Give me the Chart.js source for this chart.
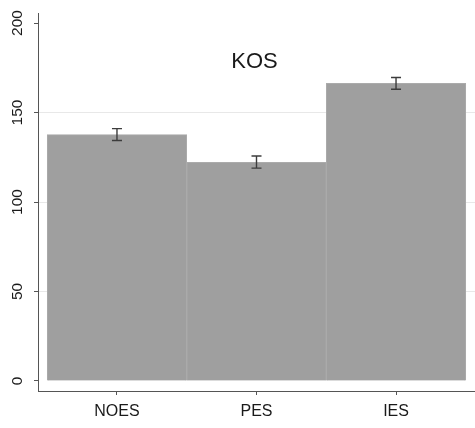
<!DOCTYPE html>
<html>
<head>
<meta charset="utf-8">
<script src="https://cdn.jsdelivr.net/npm/chart.js@4"></script>
<style>
  html, body { margin: 0; padding: 0; background: #fff; }
  #wrap { width: 475px; height: 428px; }
</style>
</head>
<body>
<div id="wrap"><canvas id="kosChart"></canvas></div>
<script>
const categories = ['NOES', 'PES', 'IES']
const means = [137.6, 122.2, 166.3]
const errLow = [134.4, 118.9, 163.0]
const errHigh = [141.0, 125.7, 169.6]
const yTicks = [0, 50, 100, 150, 200]
const panelTitle = 'KOS'

// error bars, drawn through the chart scales
const errorBars = {
  id: 'errorBars',
  afterDatasetsDraw(chart) {
    const { ctx, scales: { x, y } } = chart
    ctx.save()
    ctx.strokeStyle = '#3c3c3c'
    ctx.lineWidth = 1.4
    means.forEach((m, i) => {
      const px = x.getPixelForValue(i)
      const lo = y.getPixelForValue(errLow[i])
      const hi = y.getPixelForValue(errHigh[i])
      ctx.beginPath()
      ctx.moveTo(px, lo); ctx.lineTo(px, hi)
      ctx.moveTo(px - 5, lo); ctx.lineTo(px + 5, lo)
      ctx.moveTo(px - 5, hi); ctx.lineTo(px + 5, hi)
      ctx.stroke()
    })
    ctx.restore()
  }
}

// title placed inside the plot region
const innerTitle = {
  id: 'innerTitle',
  afterDraw(chart) {
    const { ctx, chartArea } = chart
    ctx.save()
    ctx.font = '22px "Liberation Sans", Arial, sans-serif'
    ctx.fillStyle = '#1a1a1a'
    ctx.textAlign = 'center'
    ctx.textBaseline = 'middle'
    ctx.fillText(panelTitle, (chartArea.left + chartArea.right) / 2 - 2, 62)
    ctx.restore()
  }
}

function activate_chart() {
  const ctx = document.getElementById('kosChart').getContext('2d')
  new Chart(ctx, {
    type: 'bar',
    data: {
      datasets: [{
        data: means.map((v, i) => ({ x: i, y: v })),
        backgroundColor: '#9f9f9f',
        borderColor: '#ababab',
        borderWidth: 1,
        barPercentage: 1,
        categoryPercentage: 1
      }]
    },
    options: {
      responsive: true,
      maintainAspectRatio: false,
      animation: false,
      layout: { padding: { top: 13, right: 0, left: 0, bottom: 0 } },
      plugins: {
        legend: { display: false },
        tooltip: { enabled: false }
      },
      scales: {
        x: {
          type: 'linear',
          offset: false,
          min: -0.566,
          max: 2.566,
          afterBuildTicks: s => { s.ticks = categories.map((c, i) => ({ value: i })) },
          afterFit: s => { s.height = 37 },
          ticks: {
            callback: v => categories[v],
            font: { family: '"Liberation Sans", Arial, sans-serif', size: 16 },
            color: '#1a1a1a',
            padding: 7,
            maxRotation: 0
          },
          grid: { drawOnChartArea: false, tickLength: 4, tickColor: '#555', offset: false },
          border: { color: '#555', width: 1 }
        },
        y: {
          min: -5.6,
          max: 205.6,
          afterBuildTicks: s => { s.ticks = yTicks.map(v => ({ value: v })) },
          afterFit: s => { s.width = 38 },
          ticks: {
            minRotation: 90,
            maxRotation: 90,
            crossAlign: 'center',
            padding: 3,
            font: { family: '"Liberation Sans", Arial, sans-serif', size: 15.5 },
            color: '#1a1a1a'
          },
          grid: {
            color: c => (c.tick && c.tick.value > 0 && c.tick.value < 200) ? '#e8e8e8' : 'rgba(0,0,0,0)',
            tickColor: '#555',
            tickLength: 4
          },
          border: { color: '#555', width: 1 }
        }
      }
    },
    plugins: [errorBars, innerTitle]
  })
}

activate_chart()
</script>
</body>
</html>
